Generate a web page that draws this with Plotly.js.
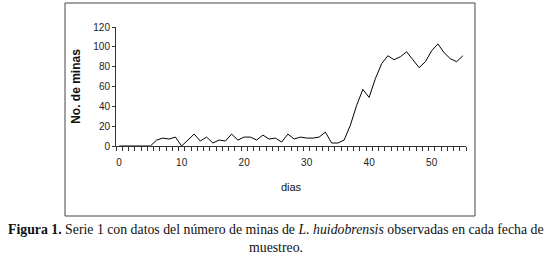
<!DOCTYPE html>
<html><head><meta charset="utf-8">
<script src="https://cdn.plot.ly/plotly-3.0.1.min.js"></script>
<style>html,body{margin:0;padding:0;background:#fff}#c{width:549px;height:259px}</style>
</head><body><div id="c"></div>
<script>
const dias = [0,1,2,3,4,5,6,7,8,9,10,11,12,13,14,15,16,17,18,19,20,21,22,23,24,25,26,27,28,29,30,31,32,33,34,35,36,37,38,39,40,41,42,43,44,45,46,47,48,49,50,51,52,53,54,55];
const minas = [0,0,0,0,0,0,6,8,7,9,0,6,12,5,9,3,6,5,12,6,9,9,6,11,7,8,4,12,7,9,8,8,9,14,3,3,6,21,41,57,49,68,83,91,87,90,95,87,79,85,96,103,94,88,85,91];
const xTicks = [0,10,20,30,40,50];
const yTicks = [0,20,40,60,80,100,120];

const tickFont = {family:'Liberation Sans, Arial, sans-serif', size:10, color:'#222'};
const trace = {x:dias, y:minas, type:'scatter', mode:'lines', line:{color:'#000', width:1}, hoverinfo:'none'};
const H = 119; const pY = p => (146 - p)/H;
const layout = {
  width:549, height:259, margin:{l:116, r:83, t:27, b:113},
  paper_bgcolor:'#fff', plot_bgcolor:'#fff', showlegend:false,
  xaxis:{range:[-0.5,55.5], tickvals:xTicks, ticktext:xTicks.map(String), ticks:'', showgrid:false, zeroline:false,
    showline:true, linecolor:'#333', linewidth:1, tickfont:tickFont, ticklabelstandoff:7,
    minor:{tick0:-0.5, dtick:1, ticks:'outside', ticklen:4, tickcolor:'#333', showgrid:false},
    title:{text:'dias', font:{family:'Liberation Sans, Arial, sans-serif', size:11, color:'#111'}, standoff:16}},
  yaxis:{range:[0,120], tickvals:yTicks, ticks:'outside', ticklen:3, tickcolor:'#333', showgrid:false, zeroline:false,
    showline:true, linecolor:'#333', linewidth:1, tickfont:tickFont,
    title:{text:'No. de minas', font:{family:'Liberation Sans, Arial, sans-serif', size:12, color:'#111', weight:'bold'}, standoff:10}},
  shapes:[{type:'rect', xref:'paper', yref:'paper', x0:(65-116)/350, x1:(475-116)/350, y0:pY(216), y1:pY(3), line:{color:'#444', width:1}}],
  annotations:[
    {xref:'paper', yref:'paper', x:(276-116)/350, y:pY(229), xanchor:'center', yanchor:'middle', showarrow:false,
     text:'<b>Figura 1.</b> Serie 1 con datos del número de minas de <i>L. huidobrensis</i> observadas en cada fecha de',
     font:{family:'Liberation Serif, Times New Roman, serif', size:13.8, color:'#111'}},
    {xref:'paper', yref:'paper', x:(276-116)/350, y:pY(247), xanchor:'center', yanchor:'middle', showarrow:false,
     text:'muestreo.', font:{family:'Liberation Serif, Times New Roman, serif', size:13.8, color:'#111'}}
  ]
};
Plotly.newPlot('c', [trace], layout, {staticPlot:true, displayModeBar:false});
</script></body></html>
